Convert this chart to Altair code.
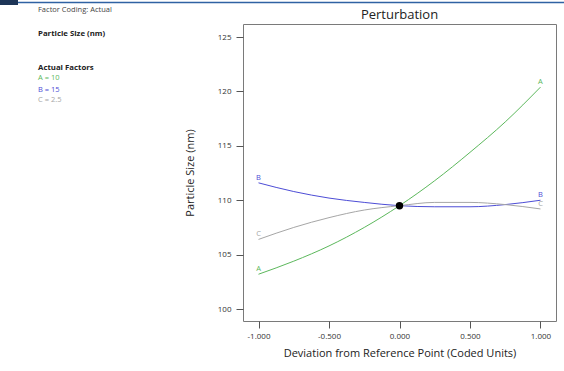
import altair as alt
import pandas as pd

# ---- data ----
x_vals = [-1.0, -0.75, -0.5, -0.25, 0.0, 0.25, 0.5, 0.75, 1.0]
series_A = [103.2, 104.4, 105.8, 107.5, 109.5, 111.8, 114.4, 117.2, 120.4]
series_B = [111.6, 110.8, 110.2, 109.8, 109.5, 109.4, 109.4, 109.6, 110.0]
series_C = [106.4, 107.5, 108.4, 109.1, 109.5, 109.8, 109.8, 109.6, 109.2]
factor_names = ["A", "B", "C"]
factor_colors = ["#5cb85c", "#4d4dd6", "#a6a6a6"]
ref_point = (0.0, 109.5)

x_ticks = [-1.0, -0.5, 0.0, 0.5, 1.0]
y_ticks = [100, 105, 110, 115, 120, 125]

side_texts = ["Factor Coding: Actual", "Particle Size (nm)", "Actual Factors",
              "A = 10", "B = 15", "C = 2.5"]
side_colors = ["#444444", "#222222", "#222222", "#5cb85c", "#4d4dd6", "#a6a6a6"]
side_weights = ["normal", "bold", "bold", "normal", "normal", "normal"]
side_y = [-14, 10, 44, 54, 66, 76]

title_text = "Perturbation"

FONT = "Open Sans"
W, H = 313, 297

rows = []
for name, vals in zip(factor_names, [series_A, series_B, series_C]):
    for x, y in zip(x_vals, vals):
        rows.append({"x": x, "y": y, "factor": name})
df = pd.DataFrame(rows)

ends = df[df["x"].isin([-1.0, 1.0])].copy()

color_scale = alt.Scale(domain=factor_names, range=factor_colors)
xs = alt.Scale(domain=[-1.11, 1.11], nice=False, zero=False)
ys = alt.Scale(domain=[98.9, 126.2], nice=False, zero=False)

x_enc = alt.X("x:Q", scale=xs, axis=alt.Axis(
    values=x_ticks, title="Deviation from Reference Point (Coded Units)",
    labelExpr="replace(format(datum.value, '.3f'), '\u2212', '-')",
    tickSize=7, tickColor="#555555", domain=False, grid=False,
    labelFontSize=8, labelColor="#333333", labelPadding=4, labelFont=FONT,
    titleFontSize=11, titleFontWeight="normal", titleColor="#222222",
    titlePadding=7, titleFont=FONT))
y_enc = alt.Y("y:Q", scale=ys, axis=alt.Axis(
    values=y_ticks, title="Particle Size (nm)",
    tickSize=7, tickColor="#555555", domain=False, grid=False,
    labelFontSize=8, labelColor="#333333", labelPadding=5, labelFont=FONT,
    titleFontSize=11, titleFontWeight="normal", titleColor="#222222",
    titlePadding=22, titleFont=FONT))

lines = alt.Chart(df).mark_line(strokeWidth=1, interpolate="monotone").encode(
    x=x_enc, y=y_enc,
    color=alt.Color("factor:N", scale=color_scale, legend=None),
    detail="factor:N")

labels = alt.Chart(ends).mark_text(fontSize=7.5, font=FONT, dy=-5).encode(
    x="x:Q", y="y:Q", text="factor:N",
    color=alt.Color("factor:N", scale=color_scale, legend=None))

pt = alt.Chart(pd.DataFrame({"x": [ref_point[0]], "y": [ref_point[1]]})).mark_circle(
    size=55, color="black", opacity=1).encode(x="x:Q", y="y:Q")

side_parts = []
for t, c, w, yy in zip(side_texts, side_colors, side_weights, side_y):
    side_parts.append(alt.Chart(pd.DataFrame({"t": [t]})).mark_text(
        align="left", baseline="middle", fontSize=7.5 if w == "normal" else 7.8,
        font=FONT, color=c, fontWeight=w).encode(
        text="t:N", x=alt.value(-205), y=alt.value(yy)))

title_mark = alt.Chart(pd.DataFrame({"t": [title_text]})).mark_text(
    align="center", baseline="middle", fontSize=13, font=FONT, color="#222222").encode(
    text="t:N", x=alt.value(W / 2), y=alt.value(-9))

bar_line = alt.Chart(pd.DataFrame({"a": [0]})).mark_rule(
    color="#2f62a3", strokeWidth=1.5).encode(
    x=alt.value(-243), x2=alt.value(321), y=alt.value(-21.5))
bar_block = alt.Chart(pd.DataFrame({"a": [0]})).mark_rule(
    color="#1d3557", strokeWidth=5).encode(
    x=alt.value(-243), x2=alt.value(-225), y=alt.value(-21.5))

chart = alt.layer(lines, labels, pt, title_mark, bar_line, bar_block, *side_parts).properties(
    width=W, height=H,
    autosize=alt.AutoSizeParams(type="none"),
    padding={"left": 243, "top": 24, "right": 8, "bottom": 50},
    background="white",
).configure_view(stroke="#7a7a7a", strokeWidth=1)

chart.save("out.html", embed_options={"renderer": "svg", "actions": False})
